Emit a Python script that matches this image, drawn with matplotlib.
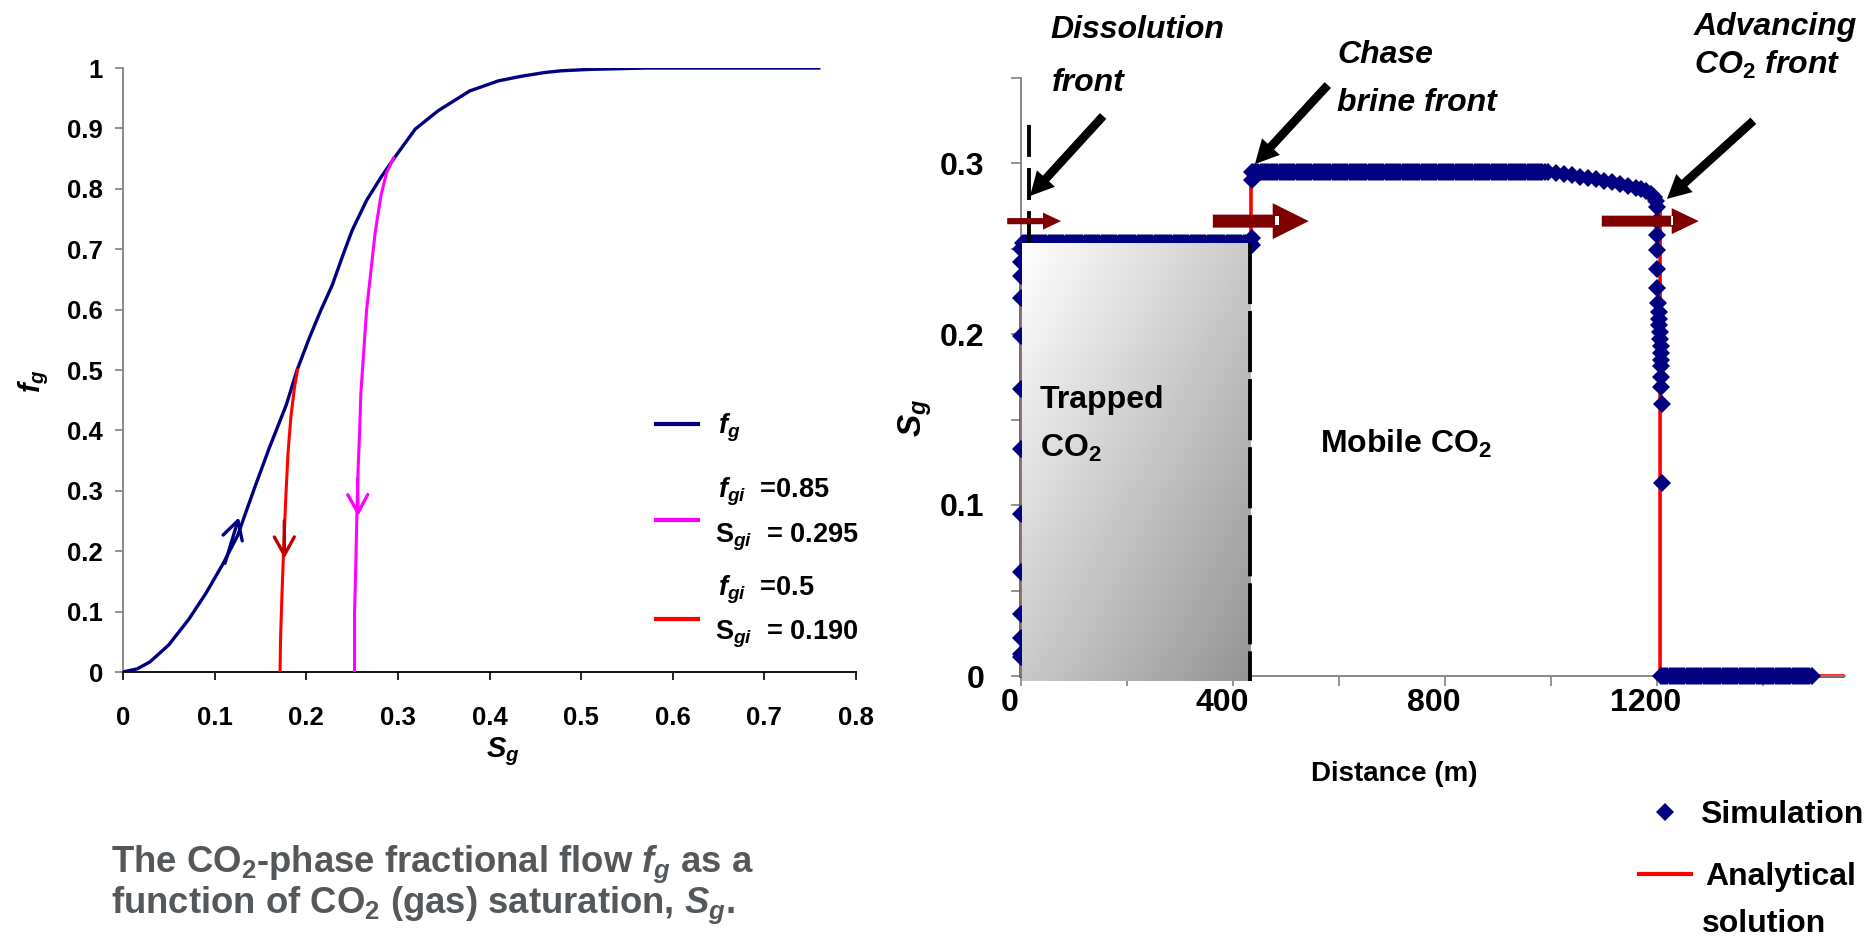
import numpy as np
import matplotlib
matplotlib.use("Agg")
import matplotlib.pyplot as plt
from matplotlib.lines import Line2D
from matplotlib.patches import FancyArrow, FancyArrowPatch, Rectangle
from matplotlib.colors import LinearSegmentedColormap
from matplotlib.transforms import ScaledTranslation

plt.rcParams["font.family"] = ["Liberation Sans", "DejaVu Sans"]
plt.rcParams["font.weight"] = "bold"
plt.rcParams["mathtext.fontset"] = "custom"
plt.rcParams["mathtext.rm"] = "Liberation Sans:bold"
plt.rcParams["mathtext.it"] = "Liberation Sans:bold:italic"
plt.rcParams["mathtext.bf"] = "Liberation Sans:bold"
plt.rcParams["lines.scale_dashes"] = False

# ---------------- data: fractional flow panel ----------------
sg_curve = [0.000, 0.0156, 0.0294, 0.050, 0.0719, 0.0907, 0.1095, 0.1251, 0.1313,
            0.1438, 0.1595, 0.1783, 0.1900, 0.2033, 0.2158, 0.2283, 0.2408, 0.2502,
            0.2659, 0.2815, 0.2971, 0.3190, 0.3440, 0.3784, 0.4097, 0.4347, 0.4597,
            0.4784, 0.5097, 0.5723, 0.7612]
fg_curve = [0.000, 0.0053, 0.0167, 0.0449, 0.0875, 0.1308, 0.1802, 0.2259, 0.2525,
            0.3057, 0.3703, 0.4426, 0.5000, 0.5529, 0.5985, 0.6403, 0.6935, 0.7316,
            0.7810, 0.8190, 0.8532, 0.8989, 0.9293, 0.9620, 0.9787, 0.9863, 0.9924,
            0.9954, 0.9977, 1.0000, 1.0000]

# path from injection state fgi = 0.85 (Sgi = 0.295)
sg_path_085 = [0.2527, 0.2527, 0.2540, 0.2552, 0.2565, 0.2583, 0.2596, 0.2627,
               0.2658, 0.2708, 0.2752, 0.2815, 0.2877, 0.2952]
fg_path_085 = [0.0, 0.0966, 0.1726, 0.2563, 0.3323, 0.4008, 0.4616, 0.5300,
               0.5985, 0.6669, 0.7278, 0.7886, 0.8266, 0.8510]

# path from injection state fgi = 0.5 (Sgi = 0.190)
sg_path_05 = [0.1714, 0.1720, 0.1733, 0.1751, 0.1776, 0.1801, 0.1833, 0.1870, 0.1905]
fg_path_05 = [0.0, 0.0586, 0.1194, 0.1954, 0.2867, 0.3627, 0.4236, 0.4692, 0.5000]

fg_ticks = [0, 0.1, 0.2, 0.3, 0.4, 0.5, 0.6, 0.7, 0.8, 0.9, 1.0]
fg_ticklabels = ["0", "0.1", "0.2", "0.3", "0.4", "0.5", "0.6", "0.7", "0.8", "0.9", "1"]
sg_ticks = [0, 0.1, 0.2, 0.3, 0.4, 0.5, 0.6, 0.7, 0.8]
sg_ticklabels = ["0", "0.1", "0.2", "0.3", "0.4", "0.5", "0.6", "0.7", "0.8"]

# ---------------- data: saturation profile panel ----------------
cell_dx = 4.0
# inlet column at the dissolution front
inlet_sg = [0.011, 0.013, 0.022, 0.036, 0.061, 0.095, 0.133, 0.168, 0.199,
            0.221, 0.234, 0.242, 0.250]
trapped_range = (4.0, 432.0)
trapped_sg = 0.253
chase_front_x = [436, 436, 436, 436]
chase_front_sg = [0.252, 0.256, 0.290, 0.295]
mobile_range = (440.0, 988.0)
mobile_sg = 0.295
tail_x = [995, 1010, 1025, 1040, 1055, 1070, 1085, 1100, 1115, 1130, 1145, 1160,
          1170, 1180, 1188, 1194, 1198, 1201]
tail_sg = [0.2948, 0.2942, 0.2935, 0.2928, 0.2920, 0.2912, 0.2904, 0.2895, 0.2886,
           0.2876, 0.2866, 0.2856, 0.2847, 0.2835, 0.2820, 0.2800, 0.2775, 0.2740]
front_x = [1200, 1200, 1200, 1200, 1200, 1203, 1204, 1204, 1204, 1206, 1206, 1207,
           1207, 1207, 1207, 1207, 1207, 1209, 1209]
front_sg = [0.266, 0.258, 0.249, 0.238, 0.227, 0.218, 0.213, 0.209, 0.205, 0.201,
            0.197, 0.193, 0.189, 0.185, 0.181, 0.175, 0.169, 0.159, 0.113]
ahead_range = (1208.0, 1492.0)
ahead_sg = 0.0

analytic_x = [0, 0, 434, 434, 990, 1020, 1060, 1100, 1140, 1170, 1190, 1200, 1206, 1206, 1551]
analytic_sg = [0, 0.253, 0.253, 0.295, 0.295, 0.2940, 0.2920, 0.2897, 0.2872, 0.2850,
               0.2830, 0.2805, 0.2780, 0, 0]

dist_ticks = [0, 200, 400, 600, 800, 1000, 1200, 1400]
dist_ticklabels = ["0", "", "400", "", "800", "", "1200", ""]
prof_ticks = [0, 0.05, 0.1, 0.15, 0.2, 0.25, 0.3, 0.35]
prof_ticklabels = ["0", "", "0.1", "", "0.2", "", "0.3", ""]

dissolution_front_x = 15
trapped_edge_x = 432

NAVY = "#000080"
MAGENTA = "#FF00FF"
RED = "#FF0000"
DARKRED = "#C00000"
MAROON = "#800000"
CAPTION = "#54585B"
MS = 9.0

W, H = 1876, 938
fig = plt.figure(figsize=(W / 100, H / 100), dpi=100)


def fx(x):
    return x / W


def fy(y):
    return 1 - y / H


def label(x, yc, s, size, **kw):
    # place text by its left edge and the middle of its cap height
    base = yc + 0.716 * size * 100 / 72 / 2
    fig.text(fx(x), fy(base), s, fontsize=size, va="baseline", ha=kw.pop("ha", "left"), **kw)


# ================= left panel: fractional flow =================
ax1 = fig.add_axes([fx(123), fy(672), (856 - 123) / W, (672 - 68) / H])
ax1.plot(sg_curve, fg_curve, color=NAVY, lw=2.4, solid_capstyle="butt", zorder=3)
ax1.plot(sg_path_085, fg_path_085, color=MAGENTA, lw=2.2, zorder=3)
ax1.plot(sg_path_05, fg_path_05, color=RED, lw=2.2, zorder=3)

for tail, tip, col in [((0.1113, 0.180), (0.1265, 0.256), NAVY),
                       ((0.2560, 0.320), (0.2565, 0.258), MAGENTA),
                       ((0.1760, 0.250), (0.1762, 0.188), DARKRED)]:
    ax1.add_patch(FancyArrowPatch(tail, tip, arrowstyle="->,head_length=0.65,head_width=0.36",
                                  mutation_scale=20, lw=2.4, color=col, zorder=4,
                                  shrinkA=0, shrinkB=0))

ax1.set_xlim(0, 0.8)
ax1.set_ylim(0, 1)
ax1.set_xticks(sg_ticks)
ax1.set_xticklabels(sg_ticklabels)
ax1.set_yticks(fg_ticks)
ax1.set_yticklabels(fg_ticklabels)
for s in ["top", "right"]:
    ax1.spines[s].set_visible(False)
ax1.spines["left"].set_color("#808080")
ax1.spines["bottom"].set_color("black")
ax1.spines["left"].set_linewidth(1.3)
ax1.spines["bottom"].set_linewidth(1.3)
ax1.tick_params(axis="x", direction="out", length=5.8, width=1.2, pad=19, labelsize=18.5, colors="black")
ax1.tick_params(axis="y", direction="out", length=5.8, width=1.2, pad=8.6, labelsize=18.5, colors="black")
ax1.tick_params(axis="y", color="#808080")

label(16, 372, r"$f_g$", 21, rotation=90)
fig.text(fx(503), fy(752), r"$S_g$", fontsize=21, ha="center", va="center")

# legend of the left panel
for yl, col in [(424, NAVY), (520, MAGENTA), (619, RED)]:
    fig.add_artist(Line2D([fx(656), fx(698)], [fy(yl), fy(yl)], color=col, lw=3))
label(718, 424, r"$f_g$", 19.5)
label(718, 488, r"$f_{gi}$  =0.85", 19.5)
label(715, 533, r"S$_{gi}$  = 0.295", 19.5)
label(718, 586, r"$f_{gi}$  =0.5", 19.5)
label(715, 630, r"S$_{gi}$  = 0.190", 19.5)

# caption
fig.text(fx(111), fy(872), r"The CO$_2$-phase fractional flow $f_g$ as a",
         fontsize=26.3, color=CAPTION, va="baseline")
fig.text(fx(111), fy(913), r"function of CO$_2$ (gas) saturation, $S_g$.",
         fontsize=26.3, color=CAPTION, va="baseline")

# ================= right panel: saturation profile =================
ax2 = fig.add_axes([fx(1021), fy(676), (1845 - 1021) / W, (676 - 77.5) / H])

ax2.plot(analytic_x, analytic_sg, color=RED, lw=2.6, zorder=2, clip_on=False)

trapped_x = np.arange(trapped_range[0], trapped_range[1] + 0.1, cell_dx)
mobile_x = np.arange(mobile_range[0], mobile_range[1] + 0.1, cell_dx)
ahead_x = np.arange(ahead_range[0], ahead_range[1] + 0.1, cell_dx)
sim_x = np.concatenate([np.zeros(len(inlet_sg)), trapped_x, chase_front_x, mobile_x,
                        tail_x, front_x, ahead_x])
sim_sg = np.concatenate([inlet_sg, np.full(len(trapped_x), trapped_sg), chase_front_sg,
                         np.full(len(mobile_x), mobile_sg), tail_sg, front_sg,
                         np.full(len(ahead_x), ahead_sg)])
ax2.plot(sim_x, sim_sg, ls="none", marker="D", ms=MS, color=NAVY, mec=NAVY, mew=0,
         zorder=3, clip_on=False)

# shaded block of trapped CO2 (diagonal white-to-grey fill)
nx = ny = 256
u = np.linspace(0, 1, nx)[None, :]
v = np.linspace(0, 1, ny)[:, None]
shade = (u + (1 - v)) / 2
grey = LinearSegmentedColormap.from_list("trap", ["#FFFFFF", "#949494"])
ax2.imshow(shade, extent=[1.5, trapped_edge_x, -0.003, trapped_sg], origin="lower",
           aspect="auto", cmap=grey, vmin=0, vmax=1, interpolation="bilinear",
           zorder=4, clip_on=False)

ax2.plot([trapped_edge_x, trapped_edge_x], [trapped_sg, -0.003], color="black", lw=2.8,
         dashes=(44, 5), zorder=5, clip_on=False)
ax2.plot([dissolution_front_x, dissolution_front_x], [0.253, 0.324], color="black", lw=2.8,
         dashes=(23, 8), zorder=5, clip_on=False)

# block arrows showing front propagation
for x0, x1, hl, w, hw in [(-26, 75.5, 34, 0.0036, 0.0100),
                           (362, 543, 68, 0.0076, 0.0210),
                           (1096, 1279, 51, 0.0064, 0.0152)]:
    ax2.add_patch(FancyArrow(x0, 0.266, x1 - x0, 0, width=w, head_width=hw, head_length=hl,
                             length_includes_head=True, color=MAROON, lw=0, zorder=6,
                             clip_on=False))
for xs, xe in [(480, 486), (1227, 1231)]:
    ax2.add_patch(Rectangle((xs, 0.2636), xe - xs, 0.0052, color="white", lw=0, zorder=7))

# arrows pointing at the three fronts
for tail, tip in [((155, 0.3275), (17, 0.2807)),
                  ((579, 0.3456), (441.5, 0.2994)),
                  ((1382, 0.3247), (1219, 0.2790))]:
    ax2.annotate("", xy=tip, xytext=tail, annotation_clip=False,
                 arrowprops=dict(arrowstyle="simple,head_length=1.7,head_width=1.75,tail_width=0.62",
                                 mutation_scale=10, fc="black", ec="none",
                                 shrinkA=0, shrinkB=0), zorder=8)

ax2.set_xlim(0, 1555)
ax2.set_ylim(0, 0.35)
ax2.set_xticks(dist_ticks)
ax2.set_xticklabels(dist_ticklabels)
ax2.set_yticks(prof_ticks)
ax2.set_yticklabels(prof_ticklabels)
for s in ["top", "right"]:
    ax2.spines[s].set_visible(False)
for s in ["left", "bottom"]:
    ax2.spines[s].set_color("#808080")
    ax2.spines[s].set_linewidth(1.3)
ax2.tick_params(axis="x", direction="out", length=7.2, width=1.2, pad=1.5, labelsize=23,
                color="#808080", labelcolor="black")
ax2.tick_params(axis="y", direction="out", length=7.2, width=1.2, pad=19, labelsize=23,
                color="#808080", labelcolor="black")
# distance labels sit slightly left of their ticks
shift = ScaledTranslation(-11 / 100, 0, fig.dpi_scale_trans)
for t in ax2.get_xticklabels():
    t.set_transform(t.get_transform() + shift)

label(896, 413, r"$S_g$", 24, rotation=90)
fig.text(fx(1394), fy(774), "Distance (m)", fontsize=20, ha="center", va="center")

# annotations
label(1050, 27, "Dissolution", 23, style="italic")
label(1052, 80, "front", 23, style="italic")
label(1337, 52, "Chase", 23, style="italic")
label(1337, 100, "brine front", 23, style="italic")
label(1694, 24, "Advancing", 23, style="italic")
label(1694, 62, r"CO$_2$ front", 23, style="italic")
label(1040, 397, "Trapped", 23)
label(1040, 445, r"CO$_2$", 23)
label(1320, 441, r"Mobile CO$_2$", 23)

# legend of the right panel
fig.add_artist(Line2D([fx(1665)], [fy(812)], ls="none", marker="D", ms=MS, color=NAVY, mew=0))
label(1700, 812, "Simulation", 23)
fig.add_artist(Line2D([fx(1639), fx(1691)], [fy(874), fy(874)], color=RED, lw=3))
label(1705, 874, "Analytical", 23)
label(1702, 921, "solution", 23)

fig.savefig("out.png", dpi=100)
